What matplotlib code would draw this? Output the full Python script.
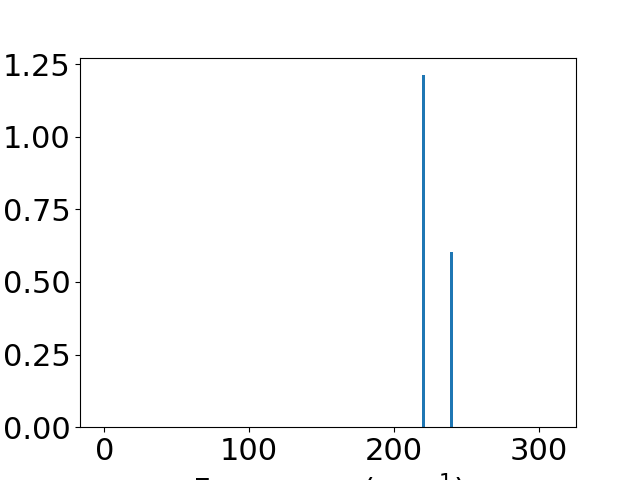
import matplotlib
matplotlib.use("Agg")
import matplotlib.pyplot as plt

frequencies = [220.4, 239.7]
intensities = [1.212, 0.603]
bar_width = 1.7

plt.rcParams['font.size'] = 22
fig, ax = plt.subplots(figsize=(6.4, 4.8), dpi=100)
ax.bar(frequencies, intensities, width=bar_width, color='#1f77b4')
ax.set_xlim(-16.8, 325.5)
ax.set_xticks([0, 100, 200, 300])
ax.set_yticks([0, 0.25, 0.5, 0.75, 1.0, 1.25])
ax.set_xlabel('Frequency (cm$^{-1}$)')
fig.savefig('out.png', dpi=100)
